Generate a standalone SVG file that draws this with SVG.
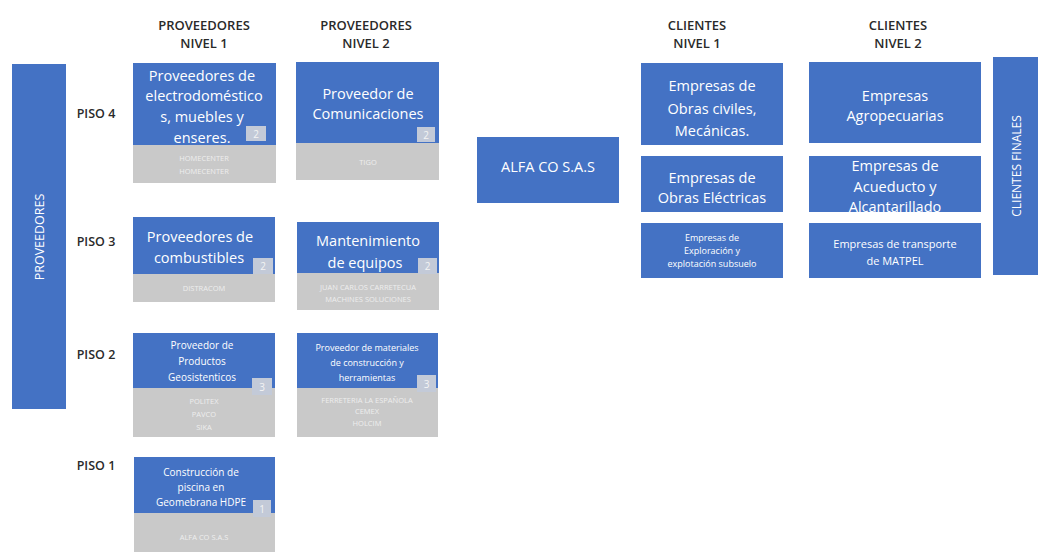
<svg xmlns="http://www.w3.org/2000/svg" width="1038" height="556" viewBox="0 0 1038 556">
<style>
.blue{fill:#4472C4}
.gray{fill:#c9c9c9}
.badge{fill:#c3cad8}
.wt{fill:#ffffff;font-family:"Open Sans","Liberation Sans",sans-serif;text-anchor:middle;dominant-baseline:central}
.gt{fill:#eeeeee;font-family:"Open Sans","Liberation Sans",sans-serif;text-anchor:middle;dominant-baseline:central;font-size:7.5px}
.bt{fill:#f4f4f4;font-family:"Open Sans","Liberation Sans",sans-serif;text-anchor:middle;dominant-baseline:central;font-size:10px}
.hd{fill:#2a2a2a;font-family:"Open Sans","Liberation Sans",sans-serif;text-anchor:middle;dominant-baseline:central;font-size:13px;font-weight:600}
.ps{fill:#2a2a2a;font-family:"Open Sans","Liberation Sans",sans-serif;text-anchor:middle;dominant-baseline:central;font-size:12.5px;font-weight:600}
.f15{font-size:14.5px}
</style>
<rect width="1038" height="556" fill="#ffffff"/>

<g id="headers">
<text class="hd" x="204" y="25">PROVEEDORES</text>
<text class="hd" x="204" y="43">NIVEL 1</text>
<text class="hd" x="366" y="25">PROVEEDORES</text>
<text class="hd" x="366" y="43">NIVEL 2</text>
<text class="hd" x="697" y="25">CLIENTES</text>
<text class="hd" x="697" y="43">NIVEL 1</text>
<text class="hd" x="898" y="25">CLIENTES</text>
<text class="hd" x="898" y="43">NIVEL 2</text>
</g>

<g id="pisos">
<text class="ps" x="96" y="113">PISO 4</text>
<text class="ps" x="96" y="241">PISO 3</text>
<text class="ps" x="96" y="354">PISO 2</text>
<text class="ps" x="96" y="465">PISO 1</text>
</g>

<g id="proveedores">
<rect class="blue" x="12" y="64" width="54" height="345"/>
<text class="wt" font-size="12.5" transform="translate(39 237) rotate(-90)">PROVEEDORES</text>
</g>

<g id="p1-piso4">
<rect class="blue" x="133" y="63" width="143" height="82"/>
<rect class="gray" x="133" y="145" width="143" height="38"/>
<text class="wt f15" x="202" y="75">Proveedores de</text>
<text class="wt f15" x="204" y="95">electrodoméstico</text>
<text class="wt f15" x="202" y="116">s, muebles y</text>
<text class="wt f15" x="202" y="137">enseres.</text>
<rect class="badge" x="246" y="126" width="20" height="15"/>
<text class="bt" x="256" y="133.5">2</text>
<text class="gt" x="204" y="158">HOMECENTER</text>
<text class="gt" x="204" y="171">HOMECENTER</text>
</g>

<g id="p2-piso4">
<rect class="blue" x="296" y="62" width="143" height="81"/>
<rect class="gray" x="296" y="143" width="143" height="37"/>
<text class="wt f15" x="368" y="93">Proveedor de</text>
<text class="wt f15" x="368" y="113">Comunicaciones</text>
<rect class="badge" x="417" y="127" width="18" height="15"/>
<text class="bt" x="426" y="134.5">2</text>
<text class="gt" x="368" y="162">TIGO</text>
</g>

<g id="p1-piso3">
<rect class="blue" x="133" y="217" width="142" height="57"/>
<rect class="gray" x="133" y="274" width="142" height="28"/>
<text class="wt f15" x="200" y="236">Proveedores de</text>
<text class="wt f15" x="199" y="257">combustibles</text>
<rect class="badge" x="253" y="258" width="20" height="16"/>
<text class="bt" x="263" y="266">2</text>
<text class="gt" x="204" y="288">DISTRACOM</text>
</g>

<g id="p2-piso3">
<rect class="blue" x="297" y="222" width="142" height="51"/>
<rect class="gray" x="297" y="273" width="142" height="37"/>
<text class="wt f15" x="368" y="240">Mantenimiento</text>
<text class="wt f15" x="365" y="262">de equipos</text>
<rect class="badge" x="418" y="258" width="19" height="16"/>
<text class="bt" x="427.5" y="266">2</text>
<text class="gt" x="368" y="287">JUAN CARLOS CARRETECUA</text>
<text class="gt" x="368" y="299">MACHINES SOLUCIONES</text>
</g>

<g id="p1-piso2">
<rect class="blue" x="133" y="333" width="142" height="55"/>
<rect class="gray" x="133" y="388" width="142" height="49"/>
<text class="wt" font-size="10" x="202" y="345">Proveedor de</text>
<text class="wt" font-size="10" x="202" y="361">Productos</text>
<text class="wt" font-size="10" x="202" y="377">Geosistenticos</text>
<rect class="badge" x="252" y="378" width="20" height="17"/>
<text class="bt" x="262" y="386.5">3</text>
<text class="gt" x="204" y="401">POLITEX</text>
<text class="gt" x="204" y="414">PAVCO</text>
<text class="gt" x="204" y="427">SIKA</text>
</g>

<g id="p2-piso2">
<rect class="blue" x="297" y="333" width="141" height="55"/>
<rect class="gray" x="297" y="388" width="141" height="49"/>
<text class="wt" font-size="9" x="367" y="347">Proveedor de materiales</text>
<text class="wt" font-size="9" x="367" y="362">de construcción y</text>
<text class="wt" font-size="9" x="367" y="377">herramientas</text>
<rect class="badge" x="417" y="375" width="19" height="17"/>
<text class="bt" x="426.5" y="383.5">3</text>
<text class="gt" x="367" y="400">FERRETERIA LA ESPAÑOLA</text>
<text class="gt" x="367" y="411">CEMEX</text>
<text class="gt" x="367" y="423">HOLCIM</text>
</g>

<g id="p1-piso1">
<rect class="blue" x="134" y="457" width="141" height="56"/>
<rect class="gray" x="134" y="513" width="141" height="39"/>
<text class="wt" font-size="10" x="201" y="472">Construcción de</text>
<text class="wt" font-size="10" x="201" y="487">piscina en</text>
<text class="wt" font-size="10" x="201" y="502">Geomebrana HDPE</text>
<rect class="badge" x="253" y="500" width="18" height="17"/>
<text class="bt" x="262" y="508.5">1</text>
<text class="gt" x="204" y="537">ALFA CO S.A.S</text>
</g>

<g id="alfa">
<rect class="blue" x="477" y="137" width="142" height="66"/>
<text class="wt f15" x="548" y="166">ALFA CO S.A.S</text>
</g>

<g id="c1-obras-civiles">
<rect class="blue" x="641" y="63" width="142" height="82"/>
<text class="wt f15" x="712" y="85">Empresas de</text>
<text class="wt f15" x="712" y="108">Obras civiles,</text>
<text class="wt f15" x="712" y="130">Mecánicas.</text>
</g>
<g id="c1-obras-electricas">
<rect class="blue" x="641" y="156" width="142" height="56"/>
<text class="wt f15" x="712" y="177">Empresas de</text>
<text class="wt f15" x="712" y="197">Obras Eléctricas</text>
</g>
<g id="c1-exploracion">
<rect class="blue" x="641" y="223" width="142" height="55"/>
<text class="wt" font-size="9" x="712" y="237">Empresas de</text>
<text class="wt" font-size="9" x="712" y="250">Exploración y</text>
<text class="wt" font-size="9" x="712" y="263">explotación subsuelo</text>
</g>

<g id="c2-agro">
<rect class="blue" x="809" y="62" width="172" height="81"/>
<text class="wt f15" x="895" y="95">Empresas</text>
<text class="wt f15" x="895" y="115">Agropecuarias</text>
</g>
<g id="c2-acueducto">
<rect class="blue" x="809" y="156" width="172" height="56"/>
<text class="wt f15" x="895" y="165">Empresas de</text>
<text class="wt f15" x="895" y="186">Acueducto y</text>
<text class="wt f15" x="895" y="206">Alcantarillado</text>
</g>
<g id="c2-transporte">
<rect class="blue" x="809" y="223" width="172" height="55"/>
<text class="wt" font-size="11" x="895" y="243">Empresas de transporte</text>
<text class="wt" font-size="11" x="895" y="260">de MATPEL</text>
</g>

<g id="clientes-finales">
<rect class="blue" x="993" y="57" width="45" height="218"/>
<text class="wt" font-size="12" transform="translate(1016 166) rotate(-90)">CLIENTES FINALES</text>
</g>

<g id="connectors"></g>
</svg>
